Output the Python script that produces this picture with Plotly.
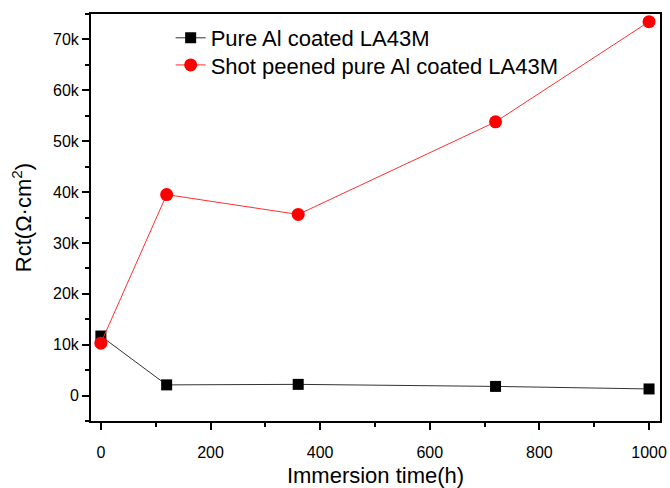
import plotly.graph_objects as go

# Immersion time (h) and charge-transfer resistance Rct (Ω·cm²)
time_h = [0, 120, 360, 720, 1000]
rct_pure_al = [11700, 2100, 2200, 1800, 1300]
rct_shot_peened = [10300, 39500, 35600, 53800, 73500]

x_ticks = [0, 200, 400, 600, 800, 1000]
y_ticks = [0, 10000, 20000, 30000, 40000, 50000, 60000, 70000]
y_tick_labels = ["0", "10k", "20k", "30k", "40k", "50k", "60k", "70k"]

font_family = "Liberation Sans, Arial, sans-serif"

fig = go.Figure()
fig.add_trace(go.Scatter(
    x=time_h, y=rct_pure_al, mode="lines+markers",
    name="Pure Al coated LA43M", legend="legend", showlegend=True,
    line=dict(color="#333333", width=1),
    marker=dict(symbol="square", size=11, color="black"),
))
fig.add_trace(go.Scatter(
    x=time_h, y=rct_shot_peened, mode="lines+markers",
    name="Shot peened pure Al coated LA43M", legend="legend2", showlegend=True,
    line=dict(color="#ff3030", width=1),
    marker=dict(symbol="circle", size=13, color="#ff0000"),
))

axis_common = dict(
    showline=True, linecolor="black", linewidth=2, mirror=True,
    showgrid=False, zeroline=False, automargin=False,
    ticks="outside", ticklen=7, tickwidth=2, tickcolor="black",
    tickfont=dict(size=16, color="black", family=font_family),
)

fig.update_xaxes(
    range=[-18, 1020], tickvals=x_ticks, ticklabelstandoff=9,
    title=dict(text="Immersion time(h)", font=dict(size=22, color="black", family=font_family)),
    minor=dict(dtick=100, tick0=0, ticks="outside", ticklen=4, tickwidth=2, tickcolor="black"),
    **axis_common,
)
fig.update_yaxes(
    range=[-5000, 75000], tickvals=y_ticks, ticktext=y_tick_labels,
    title=dict(text="Rct(Ω·cm<sup>2</sup>)", font=dict(size=22, color="black", family=font_family)),
    minor=dict(dtick=5000, tick0=0, ticks="outside", ticklen=4, tickwidth=2, tickcolor="black"),
    **axis_common,
)

legend_style = dict(
    xanchor="left", yanchor="top", visible=True,
    font=dict(size=22, color="black", family=font_family),
    bgcolor="rgba(0,0,0,0)",
)

fig.update_layout(
    width=670, height=488,
    margin=dict(l=91, r=10, t=14, b=67),
    paper_bgcolor="white", plot_bgcolor="white",
    font=dict(family=font_family, color="black"),
    showlegend=True,
    legend=dict(x=0.14, y=0.9926, **legend_style),
    legend2=dict(x=0.14, y=0.926, **legend_style),
)

fig.write_html("out.html")
